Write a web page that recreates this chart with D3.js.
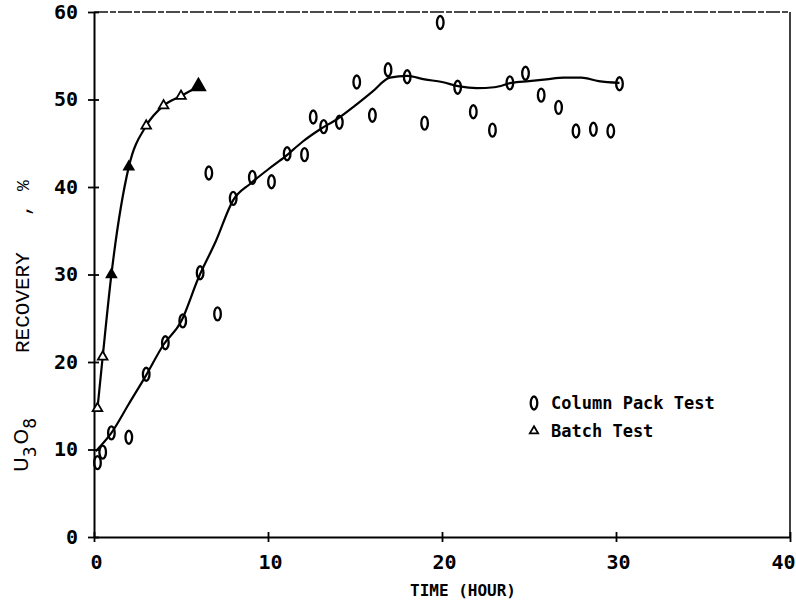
<!DOCTYPE html>
<html><head><meta charset="utf-8">
<script src="https://cdn.jsdelivr.net/npm/d3@7"></script>
<style>body{margin:0;background:#fff}svg{display:block}</style>
</head><body>
<svg id="c" width="796" height="606"></svg>
<script>
// ---- data ----
const xTicks = [0, 10, 20, 30, 40];
const yTicks = [0, 10, 20, 30, 40, 50, 60];

// Column Pack Test (open "0" markers)
const colX = [0.2, 0.5, 1.0, 2.0, 3.0, 4.1, 5.1, 6.1, 6.6, 7.1, 8.0, 9.1, 10.2, 11.1, 12.1, 12.6, 13.2, 14.1, 15.1, 16.0, 16.9, 18.0, 19.0, 19.9, 20.9, 21.8, 22.9, 23.9, 24.8, 25.7, 26.7, 27.7, 28.7, 29.7, 30.2];
const colY = [8.5, 9.7, 11.9, 11.4, 18.6, 22.2, 24.7, 30.2, 41.6, 25.5, 38.7, 41.1, 40.6, 43.8, 43.7, 48.0, 46.9, 47.4, 52.0, 48.2, 53.4, 52.6, 47.3, 58.8, 51.4, 48.6, 46.5, 51.9, 53.0, 50.5, 49.1, 46.4, 46.6, 46.4, 51.8];

// Column Pack Test smooth curve
const fitX = [0.1, 1, 2, 3, 4, 5, 6, 7, 8, 9, 10, 11, 12, 13, 14, 15, 16, 17, 18, 19, 20, 21, 22, 23, 24, 25, 26, 27, 28, 29, 30.2];
const fitY = [9.8, 11.9, 15.2, 18.5, 22.0, 24.6, 29.6, 33.8, 38.5, 40.4, 42.0, 43.5, 45.2, 46.6, 47.8, 49.3, 50.9, 52.5, 52.7, 52.3, 52.0, 51.5, 51.3, 51.4, 51.9, 52.1, 52.3, 52.5, 52.5, 52.1, 51.9];

// Batch Test (triangles)
const batchX = [0.2, 0.5, 1.0, 2.0, 3.0, 4.0, 5.0, 6.0];
const batchY = [14.7, 20.6, 30.0, 42.3, 47.0, 49.3, 50.4, 51.5];

const legendLabels = ["Column Pack Test", "Batch Test"];

// ---- drawing ----
const svg = d3.select("#c");
const x = d3.scaleLinear().domain([0, 40]).range([94, 790]);
const y = d3.scaleLinear().domain([0, 60]).range([537, 12]);
const tickFont = "'DejaVu Sans Mono', monospace";

// frame (top dashed-ish, right)
svg.append("line").attr("x1", x(0)).attr("x2", x(40)).attr("y1", y(60)).attr("y2", y(60))
  .attr("stroke", "#111").attr("stroke-width", 1.6).attr("stroke-dasharray", "14,2,6,2");
svg.append("line").attr("x1", x(40)).attr("x2", x(40)).attr("y1", y(60)).attr("y2", y(0))
  .attr("stroke", "#111").attr("stroke-width", 1.6);

// axes
const gx = svg.append("g").attr("transform", `translate(0,${y(0)})`)
  .call(d3.axisBottom(x).tickValues(xTicks).tickSizeInner(6).tickSizeOuter(0).tickPadding(12).tickFormat(d3.format("d")));
gx.selectAll(".tick line").attr("y1", -5).attr("y2", 5);
const gy = svg.append("g").attr("transform", `translate(${x(0)},0)`)
  .call(d3.axisLeft(y).tickValues(yTicks).tickSizeInner(6).tickSizeOuter(0).tickPadding(10).tickFormat(d3.format("d")));
gy.selectAll(".tick line").attr("x1", -6).attr("x2", 5);
[gx, gy].forEach(g => {
  g.select(".domain").attr("stroke", "#000").attr("stroke-width", 2);
  g.selectAll(".tick line").attr("stroke", "#000").attr("stroke-width", 1.8);
  g.selectAll(".tick text").attr("fill", "#000").style("font-family", tickFont)
    .style("font-weight", "bold").style("font-size", "20px");
});
gx.selectAll(".tick text").attr("dx", "2px");
gx.selectAll(".tick text").filter(d => d === 40).attr("text-anchor", "end").attr("dx", "5px");

// axis titles
svg.append("text").attr("x", 463).attr("y", 596).attr("text-anchor", "middle")
  .style("font-family", tickFont).style("font-weight", "bold").style("font-size", "16px")
  .text("TIME (HOUR)");

const ytFont = "'Liberation Mono', 'Courier New', monospace";
const yt = svg.append("g");
function rot(xp, yp, txt, size, weight) {
  return yt.append("text").attr("transform", `translate(${xp},${yp}) rotate(-90)`)
    .style("font-family", ytFont).style("font-size", size + "px").style("font-weight", weight || "normal").text(txt);
}
const u = yt.append("text").attr("transform", `translate(28,472) rotate(-90)`)
  .style("font-family", "'DejaVu Sans', sans-serif").style("font-size", "20px");
u.append("tspan").text("U");
u.append("tspan").attr("dy", 8).style("font-size", "17px").text("3");
u.append("tspan").attr("dy", -8).attr("dx", 2).text("O");
u.append("tspan").attr("dy", 8).style("font-size", "17px").text("8");
rot(29, 353, "RECOVERY", 21);
rot(29, 216, ",", 20);
rot(29, 191, "%", 18);

// curves
const line = d3.line().x(d => x(d[0])).y(d => y(d[1])).curve(d3.curveMonotoneX);
svg.append("path").datum(fitX.map((v, i) => [v, fitY[i]])).attr("d", line)
  .attr("fill", "none").attr("stroke", "#000").attr("stroke-width", 2.2);
svg.append("path").datum(batchX.map((v, i) => [v, batchY[i]])).attr("d", line)
  .attr("fill", "none").attr("stroke", "#000").attr("stroke-width", 2.2);

// markers
svg.append("g").selectAll("ellipse").data(colX.map((v, i) => [v, colY[i]])).join("ellipse")
  .attr("cx", d => x(d[0])).attr("cy", d => y(d[1])).attr("rx", 3.3).attr("ry", 6.5)
  .attr("fill", "none").attr("stroke", "#000").attr("stroke-width", 2.3);
const tri = d3.symbol().type(d3.symbolTriangle).size(40);
svg.append("g").selectAll("path").data(batchX.map((v, i) => [v, batchY[i]])).join("path")
  .attr("transform", d => `translate(${x(d[0])},${y(d[1])})`)
  .attr("d", (d, i) => i === batchX.length - 1 ? d3.symbol().type(d3.symbolTriangle).size(80)() : tri())
  .attr("fill", (d, i) => (i === batchX.length - 1 || i === 2 || i === 3) ? "#000" : "#fff")
  .attr("stroke", "#000").attr("stroke-width", 1.8);

// legend
const lg = svg.append("g");
lg.append("ellipse").attr("cx", 534).attr("cy", 403).attr("rx", 3.3).attr("ry", 6.5)
  .attr("fill", "none").attr("stroke", "#000").attr("stroke-width", 2.3);
lg.append("path").attr("transform", "translate(534,431)").attr("d", d3.symbol().type(d3.symbolTriangle).size(30)())
  .attr("fill", "#fff").attr("stroke", "#000").attr("stroke-width", 1.8);
lg.selectAll("text").data(legendLabels).join("text")
  .attr("x", 551).attr("y", (d, i) => 409 + i * 28)
  .style("font-family", tickFont).style("font-weight", "bold").style("font-size", "17px")
  .text(d => d);
</script>
</body></html>
